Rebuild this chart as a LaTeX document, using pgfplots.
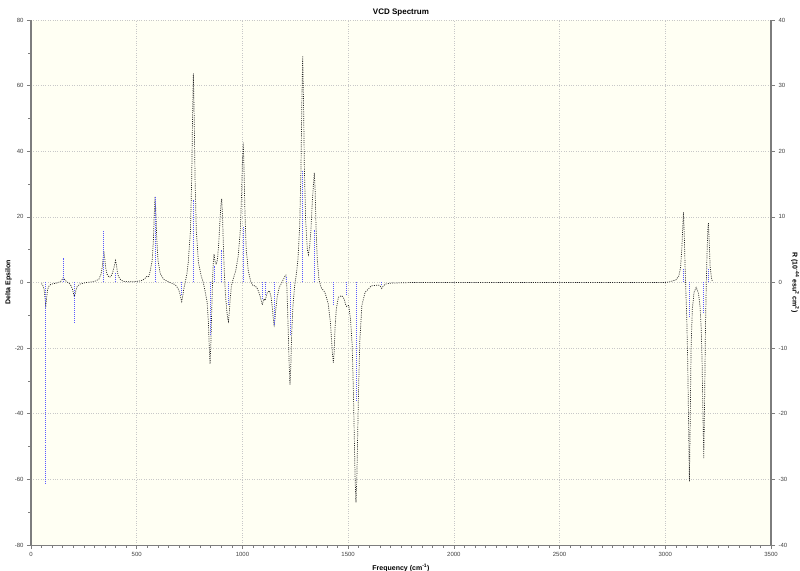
\documentclass[border=0pt]{standalone}
\usepackage{fontspec}
\setmainfont{Liberation Sans}
\usepackage{pgfplots}
\pgfplotsset{compat=1.18}
\definecolor{bg}{RGB}{255,255,243}
\definecolor{gridc}{RGB}{200,200,200}
\definecolor{axc}{RGB}{125,125,125}
\definecolor{stick}{RGB}{90,90,255}
\begin{document}
\begin{tikzpicture}
\useasboundingbox (-31pt,-25pt) rectangle (769pt,545pt);
\begin{axis}[
 at={(0pt,0pt)}, anchor=south west, scale only axis, width=740pt, height=525pt,
 xmin=0, xmax=3500, ymin=-80, ymax=80,
 axis background/.style={fill=bg},
 axis x line*=bottom, axis y line*=left,
 axis line style={-},
 x axis line style={draw=axc, line width=0.5pt},
 y axis line style={draw=axc, line width=1.2pt},
 xtick={0,500,...,3500}, ytick={-80,-60,...,80},
 minor x tick num=9, minor y tick num=1,
 tick align=outside, major tick length=4pt, minor tick length=2.5pt,
 tick style={draw=axc, line width=0.5pt},
 grid=major, grid style={gridc, dotted, line width=0.6pt},
 ticklabel style={font=\fontsize{6}{7}\selectfont, text=black!75},
 /pgf/number format/assume math mode=true,
 /pgf/number format/1000 sep={},
 xlabel={Frequency (cm\textsuperscript{-1})},
 ylabel={Delta Epsilon},
 ylabel shift=-4pt,
 label style={font=\fontsize{7}{8}\selectfont\bfseries},
 title={VCD Spectrum},
 title style={font=\fontsize{8}{9}\selectfont\bfseries, yshift=-6pt},
]
\addplot[black!85, dash pattern=on 1pt off 1.2pt, line width=0.7pt] coordinates {
(50,-0.3) (58,-1.2) (62,-2.2) (66,-4.5) (70,-7) (74,-4.5) (78,-2.2) (84,-1.2) (95,-0.5) (120,-0.2)
(140,0.3) (145,0.7) (149,1.1) (153,1.5) (157,1.1) (161,0.7) (170,0.2) (185,-0.5) (191,-1.2) (197,-2.2)
(201,-3.4) (205,-4.3) (209,-3.4) (213,-2.2) (219,-1.2) (230,-0.5) (260,0)
(300,0.3) (321,1) (331,2.5) (337,4.6) (341,7.3) (345,9) (349,7.3) (353,4.6) (359,2.6) (369,1.6) (378,1.8)
(386,3) (392,4.5) (396,5.6) (400,6.7) (404,5.4) (408,3.4) (414,1.8) (424,0.8) (440,0.3)
(480,0.2) (520,0.5) (535,1) (543,1.5) (547,1.8) (551,1.6) (557,1.9) (563,3.3) (573,6.6) (579,13) (583,20.8)
(587,26.2) (591,20.8) (595,13) (601,6.6) (611,2.8) (627,1) (650,0.2)
(680,-0.6) (689,-1.2) (699,-2.3) (705,-3.6) (709,-4.8) (713,-5.8) (717,-4.4) (721,-2.6) (727,-0.6) (737,2.5)
(744,6.4) (754,15.6) (760,31.5) (764,50) (768,63.7) (772,50) (776,31.5) (782,15.6) (792,6) (805,2) (815,0)
(823,-2.5) (833,-6) (839,-12) (843,-19.5) (847,-24.8) (851,-18) (855,-8) (859,1) (862,6) (866,8.7) (870,6.5)
(876,5.5) (882,7) (888,12) (894,19) (898,23.5) (902,25.5) (906,20) (910,11) (915,2) (920,-4) (926,-8.5)
(930,-11) (934,-11.9) (938,-9) (942,-5) (948,-1) (958,1.5) (968,3.5) (980,8) (990,16) (996,27) (1000,37)
(1004,42.6) (1008,33.5) (1012,21) (1018,10) (1028,3.5) (1040,0.2)
(1050,-1) (1060,-1) (1072,-2) (1082,-3.8) (1088,-5.2) (1094,-6.8) (1099,-5.5) (1103,-5) (1107,-5.5) (1111,-4.6)
(1118,-3) (1128,-2.5) (1136,-4.5) (1142,-8) (1146,-11) (1150,-12.9) (1154,-11) (1158,-8) (1164,-4.5) (1174,-1.5)
(1188,0.2) (1198,1.5) (1203,2.3) (1206,2.3) (1210,-1) (1213,-7) (1217,-15.5) (1221,-25) (1225,-31.1) (1229,-25)
(1233,-15.5) (1239,-7) (1247,-1) (1257,3.5) (1263,7.5) (1271,17.5) (1277,35) (1281,55) (1285,69.1) (1289,55)
(1293,35) (1299,19) (1307,10) (1312,8.5) (1318,11) (1324,16) (1330,24) (1336,30) (1340,33.5) (1344,28) (1348,17)
(1354,7) (1362,1) (1372,-1.5) (1390,-3) (1406,-6.5) (1416,-12) (1422,-18) (1426,-22) (1430,-24.5) (1434,-21)
(1438,-14) (1444,-8) (1454,-4.5) (1470,-4) (1481,-5) (1487,-6.5) (1493,-7.3) (1497,-7) (1503,-7) (1511,-11)
(1519,-19) (1525,-33.5) (1529,-47) (1533,-60) (1537,-67) (1541,-60) (1545,-47) (1549,-33.5) (1555,-18) (1565,-7)
(1580,-3) (1610,-1) (1645,-0.8) (1653,-1.2) (1659,-1.8) (1665,-1.2) (1675,-0.5) (1700,-0.2) (1800,0) (3000,0)
(3020,0.2) (3050,0.8) (3064,2) (3072,4.5) (3078,10) (3082,16) (3086,21.4) (3090,14) (3094,4) (3098,-4) (3102,-12)
(3106,-24) (3110,-42) (3114,-60.7) (3118,-42) (3122,-20) (3128,-8) (3136,-3) (3146,-1.5) (3156,-3) (3164,-7)
(3170,-14) (3174,-24) (3178,-40) (3182,-53.5) (3186,-36) (3190,-14) (3194,0) (3198,10) (3201,16) (3204,18.1)
(3208,12) (3212,5) (3218,1.5) (3222,0.5)
};
\end{axis}
\begin{axis}[
 at={(0pt,0pt)}, anchor=south west, scale only axis, width=740pt, height=525pt,
 xmin=0, xmax=3500, ymin=-40, ymax=40,
 axis x line=none, axis y line*=right,
 axis line style={-, draw=axc, line width=1.2pt},
 ytick={-40,-30,...,40},
 tick align=outside, major tick length=4pt,
 tick style={draw=axc, line width=0.5pt},
 ticklabel style={font=\fontsize{6}{7}\selectfont, text=black!75},
 /pgf/number format/assume math mode=true,
 ylabel={R (10\textsuperscript{-44} esu\textsuperscript{2} cm\textsuperscript{2})},
 ylabel shift=-3pt,
 ylabel style={font=\fontsize{7}{8}\selectfont\bfseries, rotate=180},
]
\addplot[ycomb, stick, dash pattern=on 1pt off 1pt, line width=0.9pt, mark=none] coordinates {
(70,-30.5) (153,3.7) (205,-6.4) (345,7.9) (400,1.5) (587,13) (713,-2) (768,12.5) (847,-8) (866,2.5)
(902,5) (934,-3.5) (1004,8.5) (1094,-2.5) (1107,-2) (1150,-6.5) (1206,0.8) (1225,-8.2) (1285,17) (1340,8)
(1430,-3.6) (1493,-2) (1537,-18) (1659,-0.5) (3086,2) (3114,-5.3) (3182,-4.8) (3204,2)
};
\end{axis}
\end{tikzpicture}
\end{document}
